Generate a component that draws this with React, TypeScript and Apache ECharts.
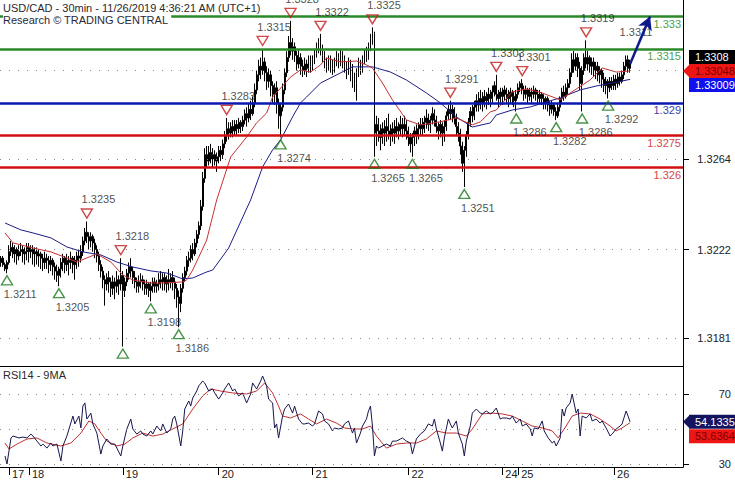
import React, { useEffect, useRef } from "react";
import * as echarts from "echarts";

// 30-min bars, [open, close, low, high] in pips above 1.3000
const ohlcPips: number[][] = [
  [216,218,214,219],[218,215,214,219],[215,213,212,216],[213,216,211,217],[216,221,215,224],[221,223,219,226],[223,220,218,225],[220,222,216,224],
  [222,219,215,223],[219,221,217,224],[221,222,219,225],[222,220,216,224],[220,221,215,223],[221,223,217,225],[223,221,216,225],[221,222,218,224],
  [222,220,215,224],[220,221,214,223],[221,219,215,223],[219,220,214,222],[220,218,213,221],[218,216,212,220],[216,218,213,221],[218,217,213,220],
  [217,215,211,219],[215,217,212,219],[217,214,210,218],[214,212,208,216],[212,210,207,215],[210,213,205,214],[213,216,209,218],[216,218,212,220],
  [218,215,211,219],[215,217,212,220],[217,216,210,219],[216,218,213,221],[218,215,211,219],[215,217,208,219],[217,219,213,221],[219,218,214,222],
  [218,221,216,224],[221,226,219,228],[226,230,224,232],[230,228,225,235],[228,226,222,230],[226,228,223,230],[228,225,221,229],[225,222,218,227],
  [222,219,216,224],[219,215,212,221],[215,212,209,217],[212,208,204,214],[208,206,196,210],[206,209,203,211],[209,207,202,212],[207,204,200,209],
  [204,207,201,210],[207,205,199,209],[205,208,202,212],[208,206,201,210],[206,210,203,218],[210,203,177,212],[203,207,200,209],[207,211,205,213],
  [211,214,208,216],[214,212,209,218],[212,209,206,214],[209,207,204,212],[207,205,202,209],[205,207,202,210],[207,208,204,211],[208,206,203,210],
  [206,204,201,208],[204,206,201,208],[206,203,200,207],[203,205,198,207],[205,207,202,209],[207,205,202,209],[205,206,202,208],[206,208,203,211],
  [208,207,204,212],[207,209,203,211],[209,206,203,211],[206,208,202,210],[208,207,203,213],[207,209,204,211],[209,207,203,212],[207,204,199,209],
  [204,200,195,206],[200,197,186,203],[197,204,193,206],[204,209,202,211],[209,212,207,214],[212,217,210,219],[217,218,214,221],[218,222,216,224],
  [222,220,217,225],[220,225,219,227],[225,229,223,231],[229,233,227,235],[233,242,231,245],[242,255,240,258],[255,266,253,269],[266,263,260,270],
  [263,267,261,270],[267,264,262,271],[264,266,260,269],[266,263,261,268],[263,265,258,267],[265,268,262,270],[268,266,263,270],[266,271,264,273],
  [271,275,269,277],[275,278,272,283],[278,276,273,281],[276,279,274,281],[279,277,274,282],[277,280,275,282],[280,278,275,282],[278,281,276,283],
  [281,279,276,282],[279,282,277,284],[282,285,280,287],[285,283,279,288],[283,287,281,290],[287,285,282,291],[285,290,284,293],[290,296,288,299],
  [296,303,294,305],[303,307,300,310],[307,305,301,311],[305,309,303,315],[309,304,300,311],[304,300,296,307],[300,303,297,306],[303,298,293,305],
  [298,294,290,300],[294,297,289,299],[297,290,285,300],[290,284,278,292],[284,288,274,290],[288,296,286,299],[296,304,294,306],[304,311,302,314],
  [311,318,309,321],[318,314,312,328],[314,316,310,320],[316,312,309,318],[312,308,305,314],[308,311,306,315],[311,307,303,313],[307,305,302,310],
  [305,308,303,311],[308,306,302,310],[306,309,304,312],[309,307,304,312],[307,310,305,312],[310,313,308,315],[313,316,311,318],[316,318,313,320],
  [318,315,312,322],[315,312,309,317],[312,309,306,314],[309,307,304,311],[307,310,305,312],[310,308,304,312],[308,306,303,310],[306,309,304,311],
  [309,311,307,314],[311,309,306,313],[309,312,307,315],[312,310,306,314],[310,307,304,312],[307,305,301,309],[305,308,303,311],[308,306,300,310],
  [306,302,297,308],[302,299,295,304],[299,304,291,306],[304,308,302,311],[308,306,303,310],[306,310,304,312],[310,313,308,315],[313,311,309,316],
  [311,316,310,318],[316,320,314,322],[320,322,317,325],[322,276,265,323],[276,280,270,284],[280,277,272,283],[277,274,268,280],[274,278,271,281],
  [278,276,270,282],[276,279,272,283],[279,277,273,285],[277,275,270,280],[275,278,272,281],[278,276,271,282],[276,279,274,283],[279,277,273,281],
  [277,280,275,284],[280,278,274,283],[278,280,275,284],[280,277,273,282],[277,274,270,279],[274,271,267,276],[271,274,265,276],[274,277,270,279],
  [277,275,271,280],[275,278,273,281],[278,280,275,283],[280,278,275,283],[278,281,276,284],[281,283,278,287],[283,280,277,285],[280,282,276,284],
  [282,285,280,288],[285,282,279,287],[282,279,276,284],[279,277,273,281],[277,280,274,282],[280,276,270,281],[276,279,272,282],[279,284,277,286],
  [284,287,282,289],[287,285,282,291],[285,287,281,289],[287,283,280,288],[283,279,275,285],[279,276,272,281],[276,270,266,278],[270,262,258,272],
  [262,268,251,270],[268,275,265,277],[275,281,273,283],[281,286,279,288],[286,284,281,289],[284,288,282,291],[288,291,286,294],[291,289,286,295],
  [289,292,287,296],[292,290,286,295],[290,293,288,296],[293,291,287,295],[291,294,289,297],[294,292,288,296],[292,295,290,298],[295,298,293,300],
  [298,294,291,303],[294,292,288,296],[292,295,289,297],[295,293,289,297],[293,296,291,298],[296,294,290,297],[294,292,288,296],[292,295,290,297],
  [295,293,289,296],[293,291,288,295],[291,294,286,296],[294,297,292,299],[297,299,295,300],[299,296,294,301],[296,294,291,298],[294,296,292,298],
  [296,293,290,297],[293,295,291,297],[295,294,290,297],[294,296,292,298],[296,294,291,297],[294,292,289,296],[292,294,290,296],[294,292,289,295],
  [292,290,287,294],[290,292,287,293],[292,289,286,293],[289,287,284,291],[287,289,285,291],[289,286,284,290],[286,284,282,288],[284,288,283,290],
  [288,292,286,293],[292,295,290,297],[295,293,291,298],[293,297,292,299],[297,299,294,301],[299,304,297,306],[304,310,302,313],[310,307,304,314],
  [307,311,305,313],[311,306,302,313],[306,299,296,309],[299,305,286,307],[305,311,303,313],[311,308,306,319],[308,311,305,314],[311,307,304,312],
  [307,309,303,311],[309,305,302,311],[305,307,301,309],[307,303,300,309],[303,305,299,307],[305,301,297,306],[301,298,295,304],[298,300,294,302],
  [300,297,292,301],[297,300,295,302],[300,298,296,302],[298,301,296,303],[301,299,296,303],[299,302,297,304],[302,300,298,304],[300,303,299,305],
  [303,307,301,309],[307,310,305,312],[310,306,304,312],[306,308,304,310],
];

// moving averages: [bar index, price]
const redMA: [number, number][] = [
  [2,1.32297],[6,1.32251],[16,1.32227],[25,1.32209],[33,1.32181],[38,1.32162],[43,1.32181],[48,1.322],[55,1.32162],[61,1.32102],
  [66,1.32079],[75,1.32065],[83,1.32065],[91,1.3207],[93,1.32079],[96,1.32125],[103,1.32264],[108,1.3245],[115,1.32649],[123,1.32742],
  [128,1.32807],[133,1.32853],[136,1.32927],[145,1.3302],[150,1.33053],[155,1.33043],[160,1.33076],[163,1.33108],[170,1.3309],[178,1.33094],
  [183,1.33076],[186,1.33062],[191,1.32992],[196,1.32914],[203,1.32821],[210,1.32798],[220,1.32812],[228,1.3283],[236,1.32798],[240,1.32812],
  [245,1.32858],[248,1.32867],[256,1.32951],[263,1.32965],[271,1.32946],[280,1.32914],[285,1.32946],[295,1.33006],[301,1.33062],[308,1.33043],[315,1.33048],
];
const blueMA: [number, number][] = [
  [2,1.32343],[10,1.32311],[16,1.32297],[25,1.32274],[33,1.32232],[41,1.32209],[50,1.32195],[58,1.32162],[66,1.32139],[75,1.32121],
  [83,1.32111],[91,1.32084],[96,1.32088],[103,1.32116],[106,1.32125],[114,1.32227],[125,1.3245],[131,1.32603],[136,1.32682],[140,1.32728],
  [146,1.32835],[150,1.329],[153,1.32927],[160,1.32992],[170,1.33039],[176,1.33067],[186,1.33067],[195,1.33043],[203,1.33006],[213,1.32946],
  [220,1.329],[228,1.32835],[236,1.32788],[245,1.32807],[248,1.32844],[256,1.32867],[265,1.32881],[273,1.32904],[280,1.32923],[290,1.3296],
  [298,1.32978],[306,1.32992],[315,1.33009],
];

// RSI14 and its 9MA: [bar index, value]
const rsi: [number, number][] = [
  [2,34.6],[3,30],[5,44.9],[6,46],[9,44.9],[11,45.4],[13,44.9],[15,47.1],[16,46],[18,43.1],[20,40.3],[21,41.4],[23,39.1],[25,42],[26,40.3],
  [28,41.4],[30,31.7],[31,40.3],[33,46],[36,57.4],[37,52.9],[39,57.4],[40,50.6],[41,63.1],[42,64.9],[43,55.7],[45,59.1],[46,52.9],[48,47.7],
  [50,35.7],[51,40.3],[53,44.3],[55,41.4],[57,41.4],[60,34.6],[61,40.3],[63,50],[65,55.7],[66,50],[68,47.1],[70,48.9],[71,47.1],[73,46],
  [75,48.9],[76,47.1],[78,51.7],[80,48.9],[81,52.9],[83,47.7],[85,50],[86,55.7],[87,57.4],[88,52.9],[90,40.3],[91,48.9],[92,61.4],[94,66],
  [95,63.1],[96,67.7],[98,71.7],[99,74.6],[101,77.4],[102,76.3],[104,71.7],[106,72.9],[107,70.6],[109,67.1],[111,70.6],[112,72.9],[114,76.3],
  [116,71.7],[117,72.9],[119,68.9],[121,70.6],[122,67.7],[123,64.9],[125,70],[126,76.3],[128,72.9],[130,77.4],[131,80.3],[133,74.6],[134,67.1],
  [136,64.9],[137,50.6],[138,52.9],[139,44.9],[141,57.4],[142,61.4],[144,64.3],[146,59.1],[147,63.1],[149,55.7],[151,52.9],[152,52.9],[154,53.4],
  [156,51.7],[157,52.9],[159,60.3],[161,58.6],[162,54.6],[164,52.9],[166,48.9],[167,50.6],[169,50],[171,50.6],[172,52.9],[174,54.6],[176,47.7],
  [177,50.6],[178,42],[180,47.7],[181,51.7],[183,55.7],[184,60.3],[185,63.1],[186,51.7],[187,34.6],[188,40.3],[189,39.1],[191,40.3],[193,41.4],
  [195,40.3],[196,43.1],[198,43.1],[200,44.3],[201,44.9],[203,43.1],[205,42],[206,35.7],[208,44.3],[210,47.1],[212,48.9],[214,52.9],[216,51.7],
  [217,55.7],[218,50],[220,42],[221,37.4],[222,44.9],[224,55.7],[225,52.9],[226,50.6],[228,54.6],[229,47.7],[231,41.4],[232,34.6],[233,43.1],
  [235,51.7],[236,59.1],[238,61.4],[240,59.1],[241,58.6],[243,60.3],[245,58.6],[246,59.1],[248,62],[250,55.7],[251,56.3],[253,56.3],[255,55.7],
  [256,57.4],[258,53.4],[260,55.7],[261,51.7],[263,52.9],[265,50],[266,46],[267,50.6],[269,50],[271,54.6],[272,48.9],[274,44.9],[276,42],
  [277,43.1],[278,40.3],[280,44.9],[281,61.4],[282,57.4],[283,62],[285,64.9],[286,70],[288,59.1],[289,61.4],[290,46],[291,57.4],[293,56.3],
  [295,58.6],[296,54.6],[298,55.7],[300,53.4],[301,54.6],[303,50.6],[305,46],[306,47.1],[308,50],[310,51.7],[311,52.9],[313,60.3],[314,57.4],[315,54.1335],
];
const rsiMA: [number, number][] = [
  [2,42],[4,38.6],[8,41.4],[13,44.3],[18,44.9],[23,42],[30,40.3],[35,42],[40,47.7],[44,54.6],[47,52.9],[50,47.7],[53,43.1],[58,40.3],
  [62,41.4],[66,44.9],[71,47.7],[76,46],[81,47.1],[86,50],[91,52.9],[96,61.4],[101,68.9],[105,72.9],[110,71.7],[116,70.6],[123,70],
  [128,71.7],[132,76.3],[136,70.6],[139,63.1],[141,57.4],[145,56.3],[150,58.6],[154,55.7],[158,52.9],[163,55.7],[168,53.4],[172,50.6],
  [176,50],[181,50],[185,51.7],[188,46],[193,39.1],[198,41.4],[203,42],[208,42],[213,44.3],[218,48.9],[223,47.7],[228,47.7],[233,46],
  [236,50],[241,58.6],[246,59.1],[251,58.6],[256,57.4],[261,54.6],[266,51.7],[271,50.6],[276,48.9],[279,44.9],[283,51.7],[286,57.4],
  [290,59.1],[295,58.6],[300,55.7],[305,51.7],[308,48.9],[311,50.6],[315,53.6364],
];

// labelled swing highs / lows: [bar index, price]
const swingHighs: [number, number][] = [
  [43,1.3235],[60,1.3218],[113,1.3283],[131,1.3315],[145,1.3328],[160,1.3322],[186,1.3325],[225,1.3291],[248,1.3303],[261,1.3301],[293,1.3319],
];
const swingLows: [number, number][] = [
  [3,1.3211],[29,1.3205],[75,1.3198],[89,1.3186],[140,1.3274],[187,1.3265],[206,1.3265],[232,1.3251],[258,1.3286],[278,1.3282],[291,1.3286],[304,1.3292],
];
const unlabeledLow: [number, number][] = [[61, 1.3177]];
const targetNote: [number, number] = [310, 1.33224];
const targetLabel = "1.3311";
const targetArrow: [number, number][] = [[315, 1.3308], [325, 1.333]];

const levels = [
  { value: 1.333, text: "1.333", line: "#2a8a2a", font: "#4f9f4f" },
  { value: 1.3315, text: "1.3315", line: "#2a8a2a", font: "#4f9f4f" },
  { value: 1.329, text: "1.329", line: "#0a18b0", font: "#3b3fa8" },
  { value: 1.3275, text: "1.3275", line: "#d21010", font: "#d24848" },
  { value: 1.326, text: "1.326", line: "#d21010", font: "#d24848" },
];

const priceTicks = [1.3181, 1.3222, 1.3264];
const priceGrid = [1.3181, 1.3222, 1.3264, 1.3305];
const rsiTicks = [30, 70];
const rsiGrid = [30, 50, 70];
const dayTicks: [number, string][] = [
  [4, "17"], [14, "18"], [61, "19"], [109, "20"], [156, "21"], [204, "22"], [251, "24"], [259, "25"], [307, "26"],
];

const lastClose = 1.3308;
const redMALast = 1.33048;
const blueMALast = 1.33009;
const rsiLast = 54.1335;
const rsiMALast = 53.6364;

const SLOTS = 342;
const FONT = "'Liberation Sans', Arial, sans-serif";
const PLOT_W = 683;

export default function App() {
  const ref = useRef<HTMLDivElement>(null);
  useEffect(() => {
    if (!ref.current) return;
    const chart = echarts.init(ref.current, null, { renderer: "svg" });
    const cats = Array.from({ length: SLOTS }, (_, i) => String(i));
    const dayMap = new Map<number, string>(dayTicks);
    const candles = ohlcPips.map((b) => b.map((p) => +(1.3 + p / 10000).toFixed(4)));

    const dotted = { type: [1, 8] as any, color: "#8a8a8a", width: 1 };
    const option: any = {
      animation: false,
      textStyle: { fontFamily: FONT },
      grid: [
        { left: 0, top: 0, width: PLOT_W, height: 366 },
        { left: 0, top: 366, width: PLOT_W, height: 101 },
      ],
      xAxis: [
        {
          type: "category", gridIndex: 0, data: cats,
          axisLine: { show: true, lineStyle: { color: "#000", width: 1 } },
          axisTick: { show: false }, axisLabel: { show: false }, splitLine: { show: false },
        },
        {
          type: "category", gridIndex: 1, data: cats,
          axisLine: { show: true, lineStyle: { color: "#000", width: 1 } },
          axisTick: {
            show: true, alignWithLabel: true, length: 8,
            interval: (i: number) => dayMap.has(i), lineStyle: { color: "#000" },
          },
          axisLabel: {
            interval: (i: number) => dayMap.has(i),
            formatter: (_v: string, i: number) => dayMap.get(i) || "",
            align: "left", padding: [0, 0, 0, 3], margin: 1, fontSize: 11, color: "#222", fontFamily: FONT,
          },
          splitLine: { show: false },
        },
      ],
      yAxis: [
        {
          type: "value", gridIndex: 0, position: "right", min: 1.3168, max: 1.33377, scale: true,
          axisLine: { show: true, lineStyle: { color: "#000" } },
          axisTick: { show: true, customValues: priceTicks, length: 6, lineStyle: { color: "#000" } },
          axisLabel: {
            customValues: priceTicks, formatter: (v: number) => v.toFixed(4),
            align: "right", margin: 48, fontSize: 11, color: "#222", fontFamily: FONT,
          },
          splitLine: { show: false },
        },
        {
          type: "value", gridIndex: 1, position: "right", min: 28.3, max: 86,
          axisLine: { show: true, lineStyle: { color: "#000" } },
          axisTick: { show: true, customValues: rsiTicks, length: 6, lineStyle: { color: "#000" } },
          axisLabel: {
            customValues: rsiTicks, formatter: (v: number) => String(v),
            align: "right", margin: 48, fontSize: 11, color: "#222", fontFamily: FONT,
          },
          splitLine: { show: false },
        },
      ],
      series: [
        {
          type: "candlestick", xAxisIndex: 0, yAxisIndex: 0, data: candles, barWidth: 1.4,
          itemStyle: { color: "#000", color0: "#000", borderColor: "#000", borderColor0: "#000", borderWidth: 1 },
        },
        {
          type: "line", xAxisIndex: 0, yAxisIndex: 0, data: blueMA, showSymbol: false,
          lineStyle: { color: "#1c1c8c", width: 1 }, z: 3,
          markLine: {
            silent: true, symbol: ["none", "none"], precision: 6,
            data: [
              ...priceGrid.map((v) => ({ yAxis: v, lineStyle: dotted, label: { show: false } })),
              ...levels.map((l) => ({
                yAxis: l.value,
                lineStyle: { color: l.line, width: 2.5, type: "solid" },
                label: {
                  show: true, position: "insideEndBottom", formatter: l.text, color: l.font,
                  fontSize: 11, distance: 2, fontFamily: FONT,
                },
              })),
            ],
          },
        },
        {
          type: "line", xAxisIndex: 0, yAxisIndex: 0, data: redMA, showSymbol: false,
          lineStyle: { color: "#c83030", width: 1 }, z: 3,
          markLine: {
            silent: true, precision: 6,
            data: [[
              { coord: targetArrow[0], symbol: "none" },
              { coord: targetArrow[1], symbol: "arrow", symbolSize: [11, 13] },
            ]],
            lineStyle: { color: "#0d1a8c", width: 2.5, type: "solid", curveness: -0.25 },
            label: { show: false },
          },
        },
        {
          type: "scatter", xAxisIndex: 0, yAxisIndex: 0, z: 5,
          data: swingHighs.map(([i, v]) => ({ value: [i, v], label: { formatter: v.toFixed(4) } })),
          symbol: "path://M0,0 L10,0 L5,8 Z", symbolSize: [11, 9], symbolOffset: [0, -8],
          itemStyle: { color: "rgba(255,255,255,0)", borderColor: "#c41a1a", borderWidth: 1.4 },
          label: {
            show: true, position: [1, -9], align: "left", verticalAlign: "middle",
            fontSize: 11, color: "#222", fontFamily: FONT,
          },
        },
        {
          type: "scatter", xAxisIndex: 0, yAxisIndex: 0, z: 5,
          data: swingLows.map(([i, v]) => ({ value: [i, v], label: { formatter: v.toFixed(4) } }))
            .concat(unlabeledLow.map(([i, v]) => ({ value: [i, v], label: { show: false } as any, } as any))),
          symbol: "path://M5,0 L10,8 L0,8 Z", symbolSize: [11, 9], symbolOffset: [0, 7],
          itemStyle: { color: "rgba(255,255,255,0)", borderColor: "#1c7a1c", borderWidth: 1.4 },
          label: {
            show: true, position: [3, 19], align: "left", verticalAlign: "middle",
            fontSize: 11, color: "#222", fontFamily: FONT,
          },
        },
        {
          type: "scatter", xAxisIndex: 0, yAxisIndex: 0, z: 4,
          data: [{ value: targetNote, label: { formatter: targetLabel } }],
          symbol: "circle", symbolSize: 1, itemStyle: { color: "rgba(0,0,0,0)" },
          label: { show: true, position: [0, 0], align: "left", verticalAlign: "middle", fontSize: 11, color: "#222", fontFamily: FONT },
        },
        {
          type: "line", xAxisIndex: 1, yAxisIndex: 1, data: rsiMA, showSymbol: false,
          lineStyle: { color: "#c03030", width: 1 },
          markLine: {
            silent: true, symbol: ["none", "none"], precision: 4,
            data: rsiGrid.map((v) => ({ yAxis: v, lineStyle: dotted, label: { show: false } })),
          },
        },
        {
          type: "line", xAxisIndex: 1, yAxisIndex: 1, data: rsi, showSymbol: false,
          lineStyle: { color: "#161650", width: 1 }, z: 3,
        },
      ],
    };
    chart.setOption(option);

    const py = (v: number) => chart.convertToPixel({ yAxisIndex: 0 }, v) as number;
    const ry = (v: number) => chart.convertToPixel({ yAxisIndex: 1 }, v) as number;
    const redY = py(redMALast);
    const blackY = Math.min(py(lastClose), redY - 14);
    const blueY = Math.max(py(blueMALast), redY + 14);
    const navyY = ry(rsiLast);
    const rsiRedY = Math.max(ry(rsiMALast), navyY + 14.5);

    const tag = (y: number, text: string, bg: string, fg: string, arrow: boolean) => {
      const els: any[] = [];
      if (arrow) {
        els.push({ type: "polygon", shape: { points: [[PLOT_W, y], [PLOT_W + 7, y - 7], [PLOT_W + 7, y + 7]] }, style: { fill: bg }, z: 50 });
      }
      els.push({ type: "rect", shape: { x: PLOT_W + 6, y: y - 7, width: 735 - PLOT_W - 6, height: 14 }, style: { fill: bg }, z: 50 });
      els.push({
        type: "text", x: PLOT_W + 12, y, z: 51,
        style: { text, fill: fg, font: `11px ${FONT}`, textAlign: "left", textVerticalAlign: "middle", align: "left", verticalAlign: "middle" },
      });
      return els;
    };

    chart.setOption({
      graphic: [
        {
          type: "text", left: 3, top: 2, z: 60,
          style: { text: "USD/CAD - 30min - 11/26/2019 4:36:21 AM (UTC+1)", fill: "#2a2a2a", font: `11px ${FONT}` },
        },
        {
          type: "text", left: 3, top: 14, z: 60,
          style: { text: "Research © TRADING CENTRAL", fill: "#2a2a3a", font: `11px ${FONT}`, backgroundColor: "#fff", padding: [0, 3, 0, 0] },
        },
        {
          type: "text", left: 3, top: 369, z: 60,
          style: { text: "RSI14 - 9MA", fill: "#2a2a2a", font: `11px ${FONT}` },
        },
        ...tag(blackY, lastClose.toFixed(4), "#000", "#fff", false),
        ...tag(redY, redMALast.toFixed(5), "#ee1515", "#7a0000", true),
        ...tag(blueY, blueMALast.toFixed(5), "#1010ee", "#fff", false),
        ...tag(navyY, rsiLast.toFixed(4), "#14145e", "#fff", true),
        ...tag(rsiRedY, rsiMALast.toFixed(4), "#ee1515", "#7a0000", false),
      ],
    });

    return () => chart.dispose();
  }, []);

  return (
    <div
      ref={ref}
      style={{ position: "fixed", left: 0, top: 0, width: 735, height: 480, background: "#fff" }}
    />
  );
}
